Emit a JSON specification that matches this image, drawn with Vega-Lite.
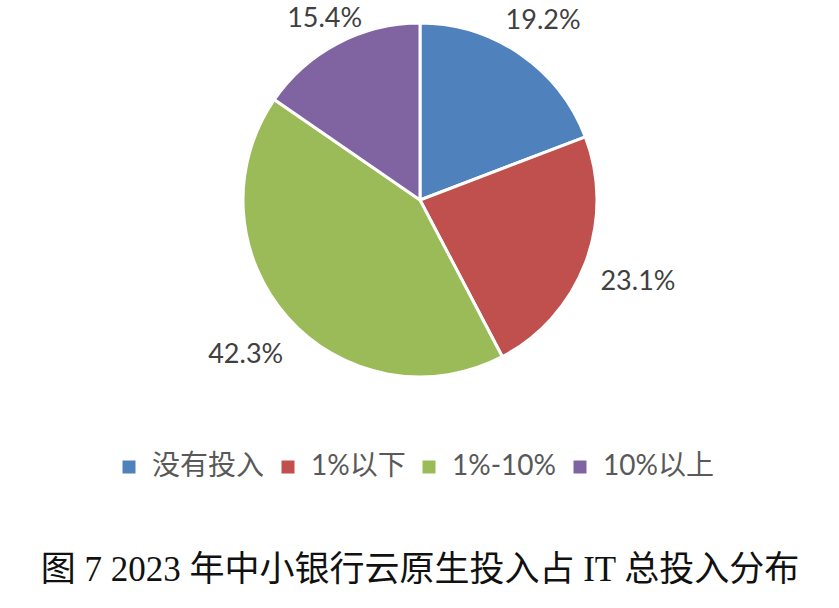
{
  "$schema": "https://vega.github.io/schema/vega-lite/v6.json",
  "description": "2023 small and medium bank cloud native spend as share of IT spend",
  "width": 840,
  "height": 400,
  "padding": 0,
  "background": "white",
  "data": {"values": [
    {"category": "没有投入", "share": 19.2, "label": "19.2%", "order": 1},
    {"category": "1%以下", "share": 23.1, "label": "23.1%", "order": 2},
    {"category": "1%-10%", "share": 42.3, "label": "42.3%", "order": 3},
    {"category": "10%以上", "share": 15.4, "label": "15.4%", "order": 4}
  ]},
  "title": {
    "text": "图 7 2023 年中小银行云原生投入占 IT 总投入分布",
    "orient": "bottom",
    "anchor": "middle",
    "offset": 72,
    "font": "Liberation Serif, Noto Sans CJK SC",
    "fontSize": 35,
    "fontWeight": "normal",
    "color": "#111111"
  },
  "encoding": {
    "theta": {"field": "share", "type": "quantitative", "stack": true},
    "order": {"field": "order", "type": "quantitative"}
  },
  "layer": [
    {
      "mark": {"type": "arc", "outerRadius": 177, "stroke": "white", "strokeWidth": 3},
      "encoding": {
        "color": {
          "field": "category",
          "type": "nominal",
          "sort": ["没有投入", "1%以下", "1%-10%", "10%以上"],
          "scale": {
            "domain": ["没有投入", "1%以下", "1%-10%", "10%以上"],
            "range": ["#4F81BD", "#C0504D", "#9BBB59", "#8064A2"]
          },
          "legend": {
            "title": null,
            "orient": "none",
            "legendX": 115,
            "legendY": 453,
            "padding": 0,
            "direction": "horizontal",
            "symbolType": "square",
            "symbolSize": 169,
            "symbolStrokeWidth": 0,
            "labelFont": "Lato, Noto Sans CJK SC",
            "labelFontSize": 28,
            "labelColor": "#595959",
            "labelOffset": 9,
            "columnPadding": 9
          }
        }
      }
    },
    {
      "mark": {
        "type": "text",
        "font": "Lato",
        "fontSize": 27,
        "color": "#404040"
      },
      "encoding": {
        "radius": {
          "field": "share",
          "type": "quantitative",
          "scale": {"type": "linear", "domain": [15.4, 19.2, 23.1], "range": [205, 217, 233], "clamp": true, "zero": false}
        },
        "text": {"field": "label"}
      }
    }
  ],
  "config": {"view": {"stroke": null}}
}
